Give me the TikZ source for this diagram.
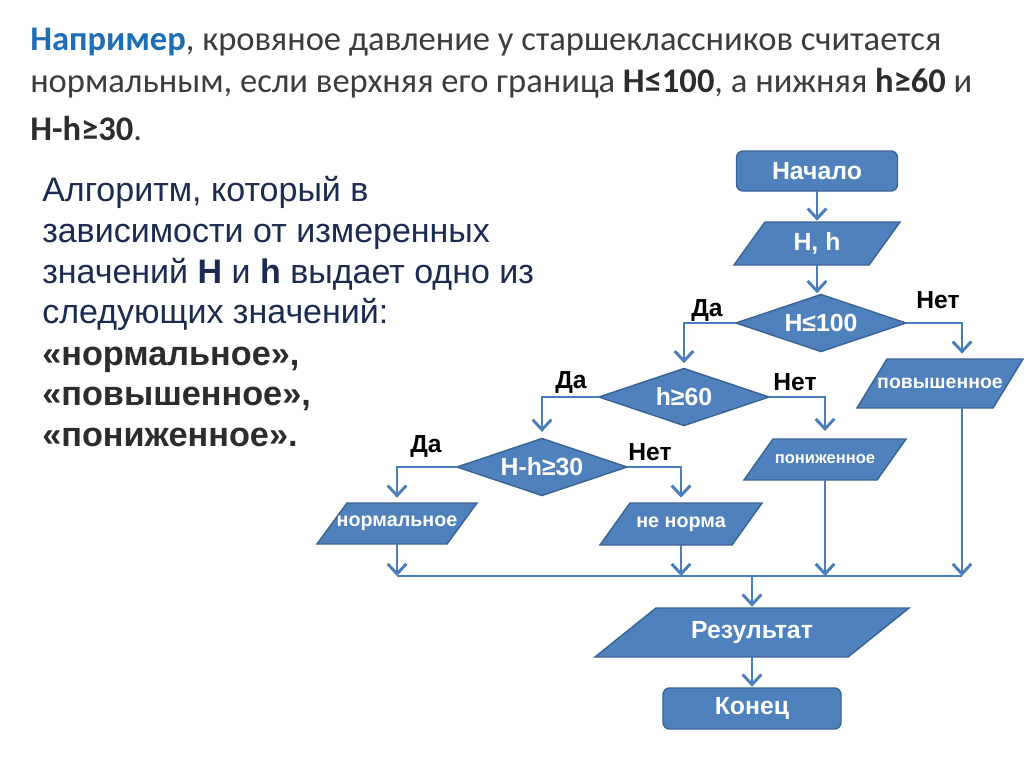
\documentclass[tikz,border=0pt]{standalone}
\usepackage{fontspec}
\setmainfont{Carlito}
\newfontfamily\arial{Liberation Sans}
\usetikzlibrary{shapes.geometric,arrows.meta,calc}
\definecolor{fillb}{HTML}{4F81BD}
\definecolor{edgeb}{HTML}{3A6496}
\definecolor{lineb}{HTML}{4A7EBB}
\definecolor{titleblue}{HTML}{1F6EB4}
\definecolor{txtgray}{HTML}{3C3C3C}
\definecolor{navy}{HTML}{1C2B50}
\definecolor{boldgray}{HTML}{2C2C2C}
\newcommand\ParaBox[8]{% name, cx, cy, overall width, height, slant, font size, text
  \fill[fillb,draw=edgeb,line width=1.1pt] ({#2-#4/2},{#3+#5/2}) -- ({#2-#4/2+#6},{#3-#5/2}) -- ({#2+#4/2},{#3-#5/2}) -- ({#2+#4/2-#6},{#3+#5/2}) -- cycle;
  \node[boxtext,font=\arial\bfseries\fontsize{#7}{#7}\selectfont,minimum width={(#4-#6)*0.75pt},minimum height={#5*0.75pt}] (#1) at (#2,#3) {#8};}
\begin{document}
\begin{tikzpicture}[x=0.75pt,y=-0.75pt,
  boxtext/.style={text=white,inner sep=0pt,outer sep=0pt,shape=rectangle},
  bigtext/.style={font=\arial\bfseries\fontsize{18.6}{20}\selectfont},
  term/.style={boxtext,bigtext,fill=fillb,draw=edgeb,line width=1.1pt,rounded corners=5pt},
  diam/.style={boxtext,bigtext,shape=diamond,aspect=3,fill=fillb,draw=edgeb,line width=1.1pt,minimum width=170*0.75pt,minimum height=57*0.75pt},
  lbl/.style={inner sep=0pt,text=black,font=\arial\bfseries\fontsize{18.5}{20}\selectfont},
  ttl/.style={anchor=base west,inner sep=0pt,text=txtgray,font=\fontsize{25.9}{30}\selectfont},
  lft/.style={anchor=base west,inner sep=0pt,text=navy,font=\arial\fontsize{25.5}{28}\selectfont},
  lftb/.style={lft,text=boldgray,font=\arial\bfseries\fontsize{25.7}{28}\selectfont},
  flow/.style={draw=lineb,line width=2.2pt},
  conn/.style={flow,-{Straight Barb[length=7.5pt,width=14pt,line width=2.2pt]}}]
\fill[white] (0,0) rectangle (1024,767);
\useasboundingbox (0,0) rectangle (1024,767);

% title
\node[ttl] (t1) at (30,51) {\textcolor{titleblue}{\bfseries Например}, кровяное давление у старшеклассников считается};
\node[ttl] (t2) at (30,93) {нормальным, если верхняя его граница \textcolor{boldgray}{\bfseries H≤100}, а нижняя \textcolor{boldgray}{\bfseries h≥60} и};
\node[ttl] (t3) at (30,140) {\textcolor{boldgray}{\bfseries H-h≥30}.};

% left text
\node[lft] (l1) at (42,201) {Алгоритм, который в};
\node[lft] (l2) at (42,242) {зависимости от измеренных};
\node[lft] (l3) at (42,283) {значений \textbf{H} и \textbf{h} выдает одно из};
\node[lft] (l4) at (42,323) {следующих значений:};
\node[lftb] (l5) at (42,365) {«нормальное»,};
\node[lftb] (l6) at (42,405) {«повышенное»,};
\node[lftb] (l7) at (42,446) {«пониженное».};

% flowchart shapes
\node[term,minimum width=161*0.75pt,minimum height=40*0.75pt] (start) at (817,171) {Начало};
\ParaBox{hh}{817}{243.5}{166}{43}{31}{18.6}{H, h}
\node[diam] (d1) at (821,323) {H≤100};
\node[diam] (d2) at (684,397) {h≥60};
\ParaBox{pov}{940}{383.5}{166}{49}{30}{14.6}{повышенное}
\ParaBox{pon}{825}{459.5}{162}{41}{29}{12.4}{пониженное}
\node[diam] (d3) at (542,467) {H-h≥30};
\ParaBox{norm}{397}{523.5}{160}{41}{30}{14.8}{нормальное}
\ParaBox{nen}{681}{524}{162}{42}{30}{14.8}{не норма}
\ParaBox{res}{752}{632.5}{314}{49}{61}{18.6}{Результат}
\node[term,minimum width=178*0.75pt,minimum height=41*0.75pt] (end) at (752,708.5) {Конец};

% labels
\node[lbl] (yes1) at (707,310) {Да};
\node[lbl] (no1) at (938,300) {Нет};
\node[lbl] (yes2) at (571,382) {Да};
\node[lbl] (no2) at (795,382) {Нет};
\node[lbl] (yes3) at (426,446) {Да};
\node[lbl] (no3) at (650,452) {Нет};

% connectors
\coordinate (povx) at ($(pov.north)+(22,0)$);
\coordinate (povy) at ($(pov.south)+(22,0)$);
\coordinate (bus) at (752,576);
\draw[conn,shorten >=1pt] (start.south) -- (start.south |- hh.north);
\draw[conn,shorten >=1pt] (hh.south) -- (hh.south |- d1.north);
\draw[conn,shorten >=4pt] (d1.west) -| (d2.north);
\draw[conn,shorten >=4pt] (d1.east) -| (povx);
\draw[conn,shorten >=5pt] (d2.west) -| (d3.north);
\draw[conn,shorten >=6pt] (d2.east) -| (pon.north);
\draw[conn,shorten >=4pt] (d3.west) -| (norm.north);
\draw[conn,shorten >=4pt] (d3.east) -| (nen.north);
\draw[flow] (norm.south |- bus) -- (povy |- bus);
\draw[conn] (norm.south) -- (norm.south |- bus);
\draw[conn] (nen.south) -- (nen.south |- bus);
\draw[conn] (pon.south) -- (pon.south |- bus);
\draw[conn] (povy) -- (povy |- bus);
\draw[conn,shorten >=1pt] (bus) -- (res.north);
\draw[conn,shorten >=1pt] (res.south) -- (end.north);
\end{tikzpicture}
\end{document}
